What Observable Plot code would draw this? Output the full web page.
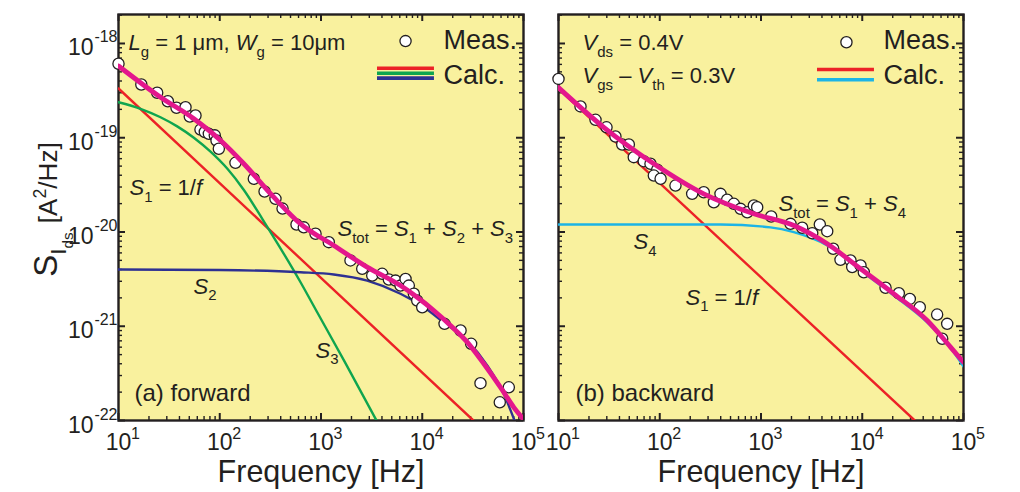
<!DOCTYPE html>
<html>
<head>
<meta charset="utf-8">
<script src="https://cdn.jsdelivr.net/npm/d3@7"></script>
<script src="https://cdn.jsdelivr.net/npm/@observablehq/plot@0.6"></script>
<style>
  body { margin: 0; background: #ffffff; }
  #chart { position: relative; width: 1020px; height: 492px; font-family: "Liberation Sans", Arial, sans-serif; color: #231f20; }
  #chart svg { position: absolute; top: 0; overflow: visible; }
</style>
</head>
<body>
<div id="chart"></div>
<script>
// ---------- Panel (a): forward ----------
const measA_f = [10, 16.8, 24.1, 30.7, 37.4, 45.9, 50.6, 57.6, 64.5, 71.2, 78, 89.3, 92.9, 97.9, 143, 217, 277, 355, 417, 573, 676, 883, 1194, 1955, 2553, 3206, 4018, 4677, 5445, 6097, 6839, 7367, 8260, 8921, 9995, 16600, 23900, 30400, 37600, 58300, 71600];
const measA_s = [6.1e-19, 3.67e-19, 3.0e-19, 2.44e-19, 2.08e-19, 2.11e-19, 1.68e-19, 1.72e-19, 1.22e-19, 1.15e-19, 1.10e-19, 1.06e-19, 9.35e-20, 7.64e-20, 5.42e-20, 3.67e-20, 2.69e-20, 2.25e-20, 1.77e-20, 1.20e-20, 1.12e-20, 9.57e-21, 7.8e-21, 4.99e-21, 4.07e-21, 3.45e-21, 3.6e-21, 3.13e-21, 3.05e-21, 2.7e-21, 3.18e-21, 2.7e-21, 2.21e-21, 1.87e-21, 1.59e-21, 1.06e-21, 9.02e-22, 6.51e-22, 2.49e-22, 1.56e-22, 2.25e-22];

const s1A_f = [10, 32000];
const s1A_s = [3.33e-19, 1.0e-22];

const s2A_f = [10, 100, 628, 1337, 2858, 6095, 10360, 16300, 27800, 43800, 63800, 81500];
const s2A_s = [4.0e-21, 3.95e-21, 3.74e-21, 3.54e-21, 3.05e-21, 2.21e-21, 1.59e-21, 1.10e-21, 7.06e-22, 3.84e-22, 1.92e-22, 1.0e-22];

const s3A_f = [10, 16.5, 26, 38, 55.5, 81.1, 119, 173, 263, 628, 923, 1706, 3532];
const s3A_s = [2.38e-19, 2.03e-19, 1.65e-19, 1.32e-19, 1.0e-19, 7.11e-20, 4.68e-20, 2.79e-20, 1.38e-20, 2.93e-21, 1.39e-21, 4.24e-22, 1.0e-22];

const totA_f = [10, 26, 55.5, 102, 173, 342, 628, 1337, 2858, 6095, 8913, 13000, 19000, 27800, 40600, 59300, 80200, 99300];
const totA_s = [5.77e-19, 2.69e-19, 1.59e-19, 9.35e-20, 5.3e-20, 2.34e-20, 1.22e-20, 7.2e-21, 4.24e-21, 2.7e-21, 2.03e-21, 1.47e-21, 1.02e-21, 6.78e-22, 4.0e-22, 2.25e-22, 1.38e-22, 1.04e-22];

// ---------- Panel (b): backward ----------
const measB_f = [10, 16.5, 23.2, 29.8, 36.5, 42.6, 49.5, 55.4, 69.5, 81, 94.4, 87.4, 102, 143, 209, 272, 342, 398, 463, 539, 628, 731, 850, 917, 1261, 1955, 2552, 3206, 3811, 4508, 5166, 6097, 7655, 7958, 9610, 10360, 16980, 22970, 29500, 37000, 54900, 69000, 61600];
const measB_s = [4.21e-19, 2.15e-19, 1.55e-19, 1.29e-19, 1.03e-19, 8.47e-20, 8.47e-20, 6.22e-20, 5.64e-20, 5.3e-20, 4.57e-20, 3.97e-20, 3.67e-20, 3.11e-20, 2.54e-20, 2.64e-20, 2.07e-20, 2.54e-20, 2.2e-20, 1.99e-20, 1.76e-20, 1.62e-20, 1.91e-20, 1.83e-20, 1.46e-20, 1.22e-20, 1.11e-20, 9.7e-21, 1.2e-20, 1.02e-20, 6.64e-21, 5.07e-21, 4.99e-21, 4.24e-21, 4.42e-21, 3.74e-21, 2.56e-21, 2.24e-21, 1.95e-21, 1.59e-21, 1.33e-21, 1.06e-21, 7.36e-22];

const s1B_f = [10, 33000];
const s1B_s = [3.3e-19, 1.0e-22];

const s4B_f = [10, 398, 1241, 2110, 4508, 9610, 20500, 43800, 69000, 100000];
const s4B_s = [1.2e-20, 1.2e-20, 1.12e-20, 9.96e-21, 7.2e-21, 3.91e-21, 2.12e-21, 1.1e-21, 6.56e-22, 3.74e-22];

const totB_f = [10, 28, 87.4, 272, 850, 2110, 4508, 9610, 20500, 43800, 74500, 100000];
const totB_s = [3.4e-19, 1.29e-19, 5.3e-20, 2.54e-20, 1.56e-20, 1.17e-20, 7.5e-21, 4.07e-21, 2.21e-21, 1.15e-21, 6.0e-22, 4.16e-22];

// ---------- Axes ----------
const xTickVals = [10, 100, 1000, 10000, 100000];
const xTickLabels = ["10^1", "10^2", "10^3", "10^4", "10^5"];
const yTickVals = [1e-18, 1e-19, 1e-20, 1e-21, 1e-22];
const yTickLabels = ["10^-18", "10^-19", "10^-20", "10^-21", "10^-22"];
const xTitle = "Frequency [Hz]";
const yTitle = "S_{I_{ds}} ~{[A^{2}/Hz]}";

// ---------- Annotations (markup: *italic*, _{sub}, ^{sup}, ~{smaller}) ----------
const annA_text = ["*L*_{g} = 1 \u03bcm, *W*_{g} = 10\u03bcm", "*S*_{1} = 1/*f*", "*S*_{tot} = *S*_{1} + *S*_{2} + *S*_{3}", "*S*_{2}", "*S*_{3}"];
const annA_f = [12.56, 12.85, 1456, 55.1, 883];
const annA_s = [8.43e-19, 2.44e-20, 8.96e-21, 2.22e-21, 4.66e-22];

const annB_text = ["*V*_{ds} = 0.4V", "*V*_{gs} \u2013 *V*_{th} = 0.3V", "*S*_{tot} = *S*_{1} + *S*_{4}", "*S*_{4}", "*S*_{1} = 1/*f*"];
const annB_f = [17.3, 17.3, 1489, 55.1, 179.5];
const annB_s = [8.43e-19, 3.77e-19, 1.65e-20, 6.52e-21, 1.70e-21];

const panelTitles = ["(a) forward", "(b) backward"];
const panelTitle_f = [14.4, 14.7];
const panelTitle_s = [1.63e-22, 1.63e-22];

// ---------- Legends ----------
const legendText = ["Meas.", "Calc."];
const legendText_f = [16200, 16200];
const legendText_s = [1.08e-18, 4.57e-19];
const legendDotA = {f: 6840, s: 1.06e-18};
const legendDotB = {f: 6980, s: 1.03e-18};
const legendLine_f = [3614, 13200];
const legendLinesA_s = [5.47e-19, 4.84e-19, 4.29e-19];
const legendLinesB_s = [5.30e-19, 4.12e-19];

// ---------- Styling ----------
const INK = "#231f20";
const PANEL_BG = "#f9f19e";
const RED = "#ec2227", GREEN = "#0fa54f", BLUE = "#2e3192", CYAN = "#1cb4e6", MAGENTA = "#e3178c";

const pts = (fs, ss) => fs.map((f, i) => ({f, s: ss[i]}));
const splitLabel = (lab, v) => { const [b, e] = lab.split("^"); return {v, b, e}; };

const xMinor = [];
for (const d of [10, 100, 1000, 10000]) for (let k = 2; k <= 9; ++k) xMinor.push(d * k);
const yMinor = [];
for (const d of [1e-22, 1e-21, 1e-20, 1e-19, 1e-18]) for (let k = 2; k <= 9; ++k) if (d * k <= 2.03e-18) yMinor.push(d * k);

const FRAME_W = 405, FRAME_H = 406;

// Inward major and minor ticks on all four sides of a panel
function tickMarks() {
  const major = {stroke: INK, strokeWidth: 2};
  const minor = {stroke: INK, strokeWidth: 1.4};
  return [
    Plot.tickX(xTickVals, {x: d => d, insetTop: FRAME_H - 7, ...major}),
    Plot.tickX(xTickVals, {x: d => d, insetBottom: FRAME_H - 7, ...major}),
    Plot.tickX(xMinor, {x: d => d, insetTop: FRAME_H - 4, ...minor}),
    Plot.tickX(xMinor, {x: d => d, insetBottom: FRAME_H - 4, ...minor}),
    Plot.tickY(yTickVals, {y: d => d, insetRight: FRAME_W - 7, ...major}),
    Plot.tickY(yTickVals, {y: d => d, insetLeft: FRAME_W - 7, ...major}),
    Plot.tickY(yMinor, {y: d => d, insetRight: FRAME_W - 4, ...minor}),
    Plot.tickY(yMinor, {y: d => d, insetLeft: FRAME_W - 4, ...minor})
  ];
}

function panel({width, marginLeft, marginRight, meas, components, total, ann, title, legendDot, legendLines, showY}) {
  const xt = xTickVals.map((v, i) => splitLabel(xTickLabels[i], v));
  const yt = yTickVals.map((v, i) => splitLabel(yTickLabels[i], v));
  const marks = [
    Plot.frame({fill: PANEL_BG}),
    ...tickMarks(),
    Plot.frame({stroke: INK, strokeWidth: 2.4}),
    ...components.map(c => Plot.line(c.data, {x: "f", y: "s", stroke: c.color, strokeWidth: 2.4, curve: "monotone-x", clip: true})),
    Plot.dot(meas, {x: "f", y: "s", r: 5.6, fill: "white", stroke: INK, strokeWidth: 1.3}),
    Plot.line(total, {x: "f", y: "s", stroke: MAGENTA, strokeWidth: 4.8, curve: "monotone-x", clip: true}),
    // x tick labels and title
    Plot.text(xt, {x: "v", frameAnchor: "bottom", text: "b", lineAnchor: "bottom", dy: 29, fontSize: 23, fill: INK}),
    Plot.text(xt, {x: "v", frameAnchor: "bottom", text: "e", textAnchor: "start", lineAnchor: "bottom", dx: 12.5, dy: 18, fontSize: 16, fill: INK}),
    Plot.text([xTitle], {frameAnchor: "bottom", lineAnchor: "bottom", dy: 61, fontSize: 30.5, fill: INK}),
    // annotations
    Plot.text(ann, {x: "f", y: "s", text: "t", textAnchor: "start", lineAnchor: "bottom", fontSize: 22, fill: INK}),
    Plot.text([title], {x: "f", y: "s", text: "t", textAnchor: "start", lineAnchor: "bottom", fontSize: 24, fill: INK}),
    // legend
    Plot.dot([legendDot], {x: "f", y: "s", r: 5.6, fill: "white", stroke: INK, strokeWidth: 1.3}),
    Plot.ruleY(legendLines, {y: "s", x1: "f1", x2: "f2", stroke: "c", strokeWidth: 3.6}),
    Plot.text(pts(legendText_f, legendText_s).map((d, i) => ({...d, t: legendText[i]})), {x: "f", y: "s", text: "t", textAnchor: "start", lineAnchor: "middle", fontSize: 27, fill: INK})
  ];
  if (showY) {
    marks.push(
      Plot.text(yt, {y: "v", frameAnchor: "left", text: "b", textAnchor: "end", lineAnchor: "bottom", dx: -25, dy: 12, fontSize: 23, fill: INK}),
      Plot.text(yt, {y: "v", frameAnchor: "left", text: "e", textAnchor: "end", lineAnchor: "bottom", dx: -1, dy: -1, fontSize: 16, fill: INK}),
      Plot.text([yTitle], {frameAnchor: "left", rotate: -90, textAnchor: "middle", lineAnchor: "bottom", dx: -62, dy: -8, fontSize: 33, fill: INK})
    );
  }
  return Plot.plot({
    width, height: 492,
    marginTop: 14, marginBottom: 72, marginLeft, marginRight,
    x: {type: "log", domain: [10, 1e5], axis: null},
    y: {type: "log", domain: [1e-22, 2.03e-18], axis: null},
    color: {type: "identity"},
    style: {background: "transparent", overflow: "visible", fontFamily: '"Liberation Sans", Arial, sans-serif', color: INK},
    marks
  });
}

const withText = (texts, fs, ss) => texts.map((t, i) => ({t, f: fs[i], s: ss[i]}));

const plotA = panel({
  width: 540, marginLeft: 118, marginRight: 17, showY: true,
  meas: pts(measA_f, measA_s),
  components: [
    {data: pts(s1A_f, s1A_s), color: RED},
    {data: pts(s3A_f, s3A_s), color: GREEN},
    {data: pts(s2A_f, s2A_s), color: BLUE}
  ],
  total: pts(totA_f, totA_s),
  ann: withText(annA_text, annA_f, annA_s),
  title: {t: panelTitles[0], f: panelTitle_f[0], s: panelTitle_s[0]},
  legendDot: legendDotA,
  legendLines: [RED, GREEN, BLUE].map((c, i) => ({c, s: legendLinesA_s[i], f1: legendLine_f[0], f2: legendLine_f[1]}))
});

const plotB = panel({
  width: 480, marginLeft: 18, marginRight: 57, showY: false,
  meas: pts(measB_f, measB_s),
  components: [
    {data: pts(s1B_f, s1B_s), color: RED},
    {data: pts(s4B_f, s4B_s), color: CYAN}
  ],
  total: pts(totB_f, totB_s),
  ann: withText(annB_text, annB_f, annB_s),
  title: {t: panelTitles[1], f: panelTitle_f[1], s: panelTitle_s[1]},
  legendDot: legendDotB,
  legendLines: [RED, CYAN].map((c, i) => ({c, s: legendLinesB_s[i], f1: legendLine_f[0], f2: legendLine_f[1]}))
});

const chart = document.getElementById("chart");
plotA.style.left = "0px";
plotB.style.left = "540px";
chart.appendChild(plotA);
chart.appendChild(plotB);

// Turn the small markup in labels into italic / subscript / superscript tspans.
function richify(root) {
  root.querySelectorAll("text").forEach(el => {
    const raw = el.textContent;
    if (!/\*|[_^~]\{/.test(raw)) return;
    const base = parseFloat(getComputedStyle(el).fontSize);
    const runs = [];
    let italic = false;
    const stack = [];
    for (let i = 0; i < raw.length; ++i) {
      const c = raw[i];
      if (c === "*") { italic = !italic; continue; }
      if ("_^~".includes(c) && raw[i + 1] === "{") { stack.push(c); ++i; continue; }
      if (c === "}" && stack.length) { stack.pop(); continue; }
      const key = (italic ? "i" : "n") + stack.join("");
      const last = runs[runs.length - 1];
      if (last && last.key === key) last.t += c;
      else runs.push({key, t: c, italic, stack: [...stack]});
    }
    el.textContent = "";
    let cur = 0;
    for (const r of runs) {
      let size = base, shift = 0;
      for (const s of r.stack) {
        if (s === "_") { shift += 0.3 * size; size *= 0.68; }
        else if (s === "^") { shift -= 0.42 * size; size *= 0.68; }
        else size *= 0.79;
      }
      const ts = document.createElementNS("http://www.w3.org/2000/svg", "tspan");
      ts.textContent = r.t;
      ts.setAttribute("font-size", size.toFixed(2));
      if (r.italic) ts.setAttribute("font-style", "italic");
      const dy = shift - cur;
      if (Math.abs(dy) > 1e-6) ts.setAttribute("dy", dy.toFixed(2));
      cur = shift;
      el.appendChild(ts);
    }
  });
}
richify(chart);
</script>
</body>
</html>
